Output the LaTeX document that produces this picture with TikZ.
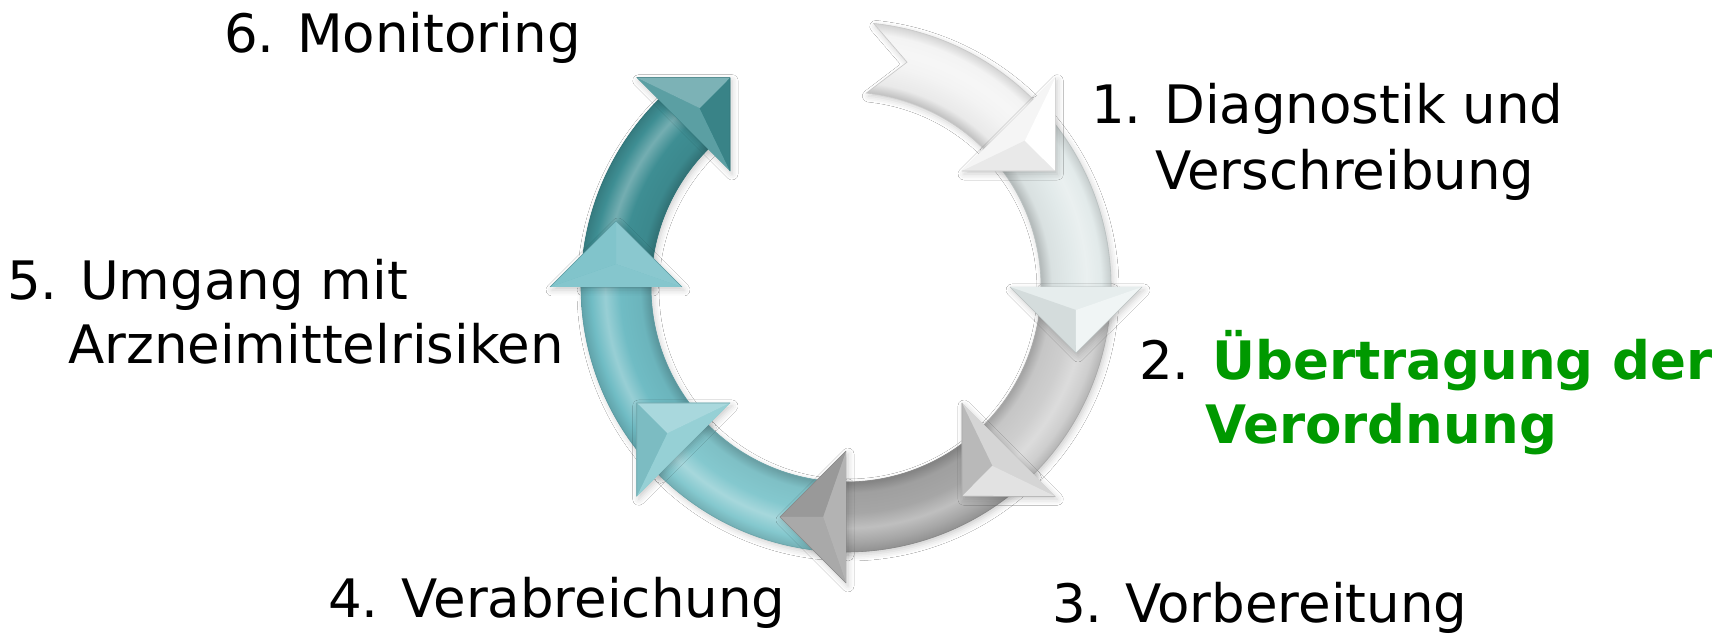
\documentclass[tikz,border=0pt]{standalone}
\usepackage{fontspec}
\setmainfont{DejaVu Sans}
\usetikzlibrary{shadows.blur}

\definecolor{segA}{HTML}{F3F3F3}
\definecolor{segB}{HTML}{E2EAEA}
\definecolor{segC}{HTML}{CECECE}
\definecolor{segD}{HTML}{A6A6A6}
\definecolor{segE}{HTML}{84C8CE}
\definecolor{segF}{HTML}{70BCC4}
\definecolor{segG}{HTML}{3E8E93}
\definecolor{hlgreen}{RGB}{0,153,0}

\tikzset{
  lbl/.style={anchor=base west, inner sep=0pt, font=\fontsize{53}{63}\selectfont},
  softshadow/.style={blur shadow={shadow xshift=2pt, shadow yshift=-3pt,
      shadow blur radius=6pt, shadow opacity=20}},
}

% body of one cycle arrow: #1 tail angle, #2 head angle, #3 tail closing piece
\newcommand{\ringbody}[3]{%
  (#1:265) arc[start angle=#1, end angle=#2, radius=265]
  -- (#2:195) arc[start angle=#2, end angle=#1, radius=195] #3 -- cycle}

% one block arrow of the cycle:
% #1 tail angle, #2 head angle, #3 colour, #4 tail closing piece,
% #5 colour of the inner head facet, #6 colour of the outer head facet
\newcommand{\cycleseg}[6]{%
  \pgfdeclareradialshading{ring#3}{\pgfpoint{0bp}{0bp}}{%
    color(0bp)=(#3!80!black); color(195bp)=(#3!80!black);
    color(205bp)=(#3!96!black); color(225bp)=(#3);
    color(240bp)=(#3!72!white); color(254bp)=(#3);
    color(265bp)=(#3!86!black); color(300bp)=(#3!86!black)}%
  \path[fill=#3, softshadow] \ringbody{#1}{#2}{#4};
  \begin{scope}
    \clip \ringbody{#1}{#2}{#4};
    \pgftext{\pgfuseshading{ring#3}}
  \end{scope}
  \draw[#3!82!black, line width=0.6pt] \ringbody{#1}{#2}{#4};
  % arrow head with bevelled facets
  \path[fill=#3, softshadow]
    (#2:164) -- ({#2-16.01}:239.28) -- (#2:296) -- cycle;
  \fill[#3!85!white] (#2:164) -- ({#2-5.71}:231.1) -- (#2:296) -- cycle;
  \fill[#5] (#2:164) -- ({#2-16.01}:239.28) -- ({#2-5.71}:231.1) -- cycle;
  \fill[#6] (#2:296) -- ({#2-16.01}:239.28) -- ({#2-5.71}:231.1) -- cycle;
  \draw[#3!82!black, line width=0.6pt, line join=round]
    (#2:164) -- ({#2-16.01}:239.28) -- (#2:296);
}

\begin{document}
\begin{tikzpicture}[x=1pt, y=1pt]
  \useasboundingbox (0,0) rectangle (1729,635);
  \fill[white] (0,0) rectangle (1729,635);

  \begin{scope}[shift={(846,348)}]
    \cycleseg{-180}{-225}{segG}{}{segG!92!black}{segG!68!white}
    \cycleseg{-135}{-180}{segF}{}{segF!82!white}{segF!88!white}
    \cycleseg{-90}{-135}{segE}{}{segE!70!white}{segE!94!black}
    \cycleseg{-45}{-90}{segD}{}{segD!92!black}{segD!97!white}
    \cycleseg{0}{-45}{segC}{}{segC!90!black}{segC!60!white}
    \cycleseg{45}{0}{segB}{}{segB!94!black}{segB!50!white}
    \cycleseg{84}{45}{segA}{-- (74.8:233)}{segA!96!black}{white}
  \end{scope}

  \node[lbl] (l6)  at (224,582)  {6. Monitoring};
  \node[lbl] (l1a) at (1091,511) {1. Diagnostik und};
  \node[lbl] (l1b) at (1155,445) {Verschreibung};
  \node[lbl] (l2a) at (1139,255) {2. \textcolor{hlgreen}{\bfseries Übertragung der}};
  \node[lbl] (l2b) at (1205,192) {\textcolor{hlgreen}{\bfseries Verordnung}};
  \node[lbl] (l3)  at (1052,13)  {3. Vorbereitung};
  \node[lbl] (l4)  at (328,18)   {4. Verabreichung};
  \node[lbl] (l5a) at (7,335)    {5. Umgang mit};
  \node[lbl] (l5b) at (68,271)   {Arzneimittelrisiken};
\end{tikzpicture}
\end{document}
